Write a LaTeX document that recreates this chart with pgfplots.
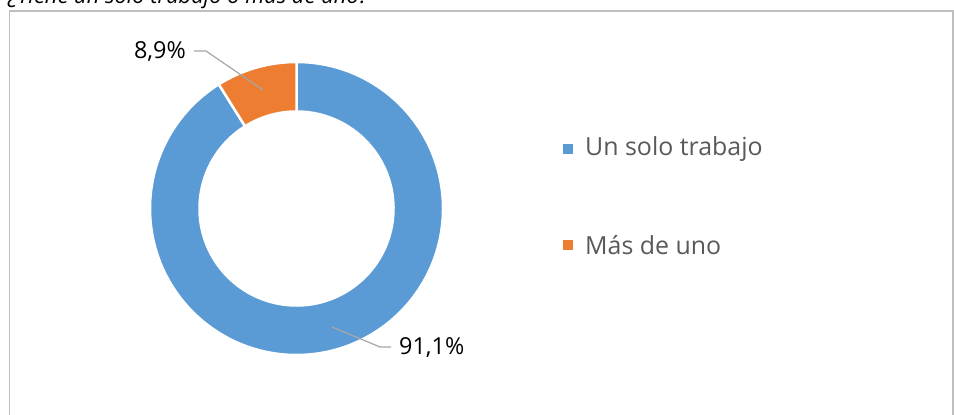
\documentclass[border=0pt]{standalone}
\usepackage{pgfplots}
\pgfplotsset{compat=1.18}
\usepackage{pgfplotstable}
\usepackage{fontspec}
\setmainfont{Open Sans}
\definecolor{cblue}{HTML}{5B9BD5}
\definecolor{corange}{HTML}{ED7D31}
\definecolor{lgrey}{HTML}{A6A6A6}
\definecolor{tgrey}{HTML}{595959}
\definecolor{fgrey}{HTML}{BFBFBF}
\pgfplotstableread{
label value
1 91.1
2 8.9
}\datatable
\begin{document}
\begin{tikzpicture}[x=1bp,y=1bp]
\clip (0,0) rectangle (954,414);
\begin{axis}[
  at={(0,0)}, anchor=south west,
  width=954bp, height=414bp, scale only axis,
  xmin=0, xmax=954, ymin=0, ymax=414,
  axis lines=none, ticks=none,
  clip=false,
]
\pgfplotstablegetelem{0}{value}\of\datatable \let\va\pgfplotsretval
\pgfplotstablegetelem{1}{value}\of\datatable \let\vb\pgfplotsretval
\pgfmathsetmacro{\ea}{90-3.6*\va}
\pgfmathsetmacro{\eb}{\ea-3.6*\vb}
% frame
\draw[fgrey, line width=1.2bp] (axis cs:9.5,-5) -- (axis cs:9.5,403) -- (axis cs:953,403) -- (axis cs:953,-5);
% title (cut off)
\node[anchor=base west, inner sep=0, font=\itshape\fontsize{22}{26}\selectfont] at (axis cs:8,410.5) {¿Tiene un solo trabajo o más de uno?};
% donut
\begin{scope}[shift={(axis cs:296.5,205.5)}]
\filldraw[fill=cblue, draw=white, line width=2.5bp] (90:146.5bp) arc[start angle=90, end angle=\ea, radius=146.5bp] -- (\ea:97bp) arc[start angle=\ea, end angle=90, radius=97bp] -- cycle;
\filldraw[fill=corange, draw=white, line width=2.5bp] (\ea:146.5bp) arc[start angle=\ea, end angle=\eb, radius=146.5bp] -- (\eb:97bp) arc[start angle=\eb, end angle=\ea, radius=97bp] -- cycle;
\end{scope}
% labels
\draw[lgrey, line width=1.2bp] (axis cs:194,363) -- (axis cs:206,363) -- (axis cs:263,324);
\node[anchor=east, inner sep=0, font=\fontsize{23.5}{27}\selectfont] at (axis cs:186,362) {8,9\%};
\draw[lgrey, line width=1.2bp] (axis cs:332,87) -- (axis cs:380,67) -- (axis cs:391,67);
\node[anchor=west, inner sep=0, font=\fontsize{23.5}{27}\selectfont] at (axis cs:399,66) {91,1\%};
% legend
\fill[cblue] (axis cs:563,260) rectangle (axis cs:573,270);
\node[anchor=west, inner sep=0, text=tgrey, font=\fontsize{25}{29}\selectfont] at (axis cs:585,265) {Un solo trabajo};
\fill[corange] (axis cs:563,164) rectangle (axis cs:573,174);
\node[anchor=west, inner sep=0, text=tgrey, font=\fontsize{25}{29}\selectfont] at (axis cs:585,169) {Más de uno};
\end{axis}
\end{tikzpicture}
\end{document}
